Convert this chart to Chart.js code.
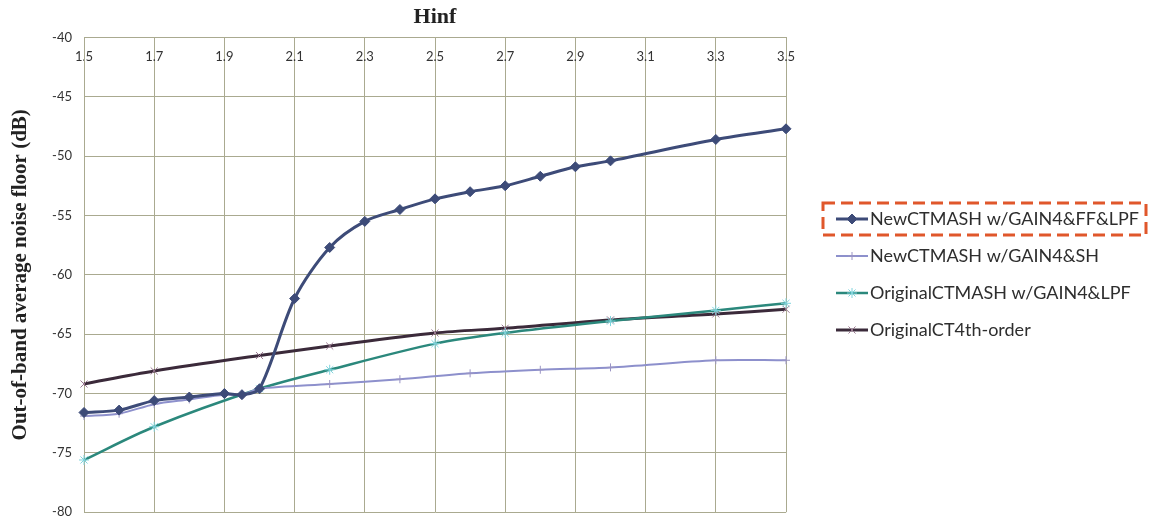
<!DOCTYPE html>
<html>
<head>
<meta charset="utf-8">
<script src="https://cdn.jsdelivr.net/npm/chart.js@4/dist/chart.umd.min.js"></script>
<style>
  html, body { margin: 0; padding: 0; background: #fff; }
  #wrap { width: 1149px; height: 532px; }
</style>
</head>
<body>
<div id="wrap"><canvas id="c" width="1149" height="532"></canvas></div>
<script>
// Out-of-band average noise floor (dB) versus Hinf
const seriesNames = [
  'NewCTMASH w/GAIN4&FF&LPF',
  'NewCTMASH w/GAIN4&SH',
  'OriginalCTMASH w/GAIN4&LPF',
  'OriginalCT4th-order'
];

const xNewFF = [1.5, 1.6, 1.7, 1.8, 1.9, 1.95, 2.0, 2.1, 2.2, 2.3, 2.4, 2.5, 2.6, 2.7, 2.8, 2.9, 3.0, 3.3, 3.5];
const yNewFF = [-71.6, -71.4, -70.6, -70.3, -70.0, -70.1, -69.6, -62.0, -57.7, -55.5, -54.5, -53.6, -53.0, -52.5, -51.7, -50.9, -50.4, -48.6, -47.7];

const xNewSH = [1.5, 1.6, 1.7, 1.8, 1.9, 1.95, 2.0, 2.2, 2.4, 2.6, 2.8, 3.0, 3.3, 3.5];
const yNewSH = [-71.9, -71.7, -70.9, -70.5, -70.1, -70.1, -69.6, -69.2, -68.8, -68.3, -68.0, -67.8, -67.2, -67.2];

const xOrigLPF = [1.5, 1.7, 2.0, 2.2, 2.5, 2.7, 3.0, 3.3, 3.5];
const yOrigLPF = [-75.6, -72.8, -69.6, -68.0, -65.8, -64.9, -63.9, -63.0, -62.4];

const xOrig4th = [1.5, 1.7, 2.0, 2.2, 2.5, 2.7, 3.0, 3.3, 3.5];
const yOrig4th = [-69.2, -68.1, -66.8, -66.0, -64.9, -64.5, -63.8, -63.3, -62.9];

const xMin = 1.5, xMax = 3.5, xStep = 0.2;
const yMin = -80, yMax = -40, yStep = 5;

const toPoints = (xs, ys) => xs.map((x, i) => ({ x: x, y: ys[i] }));

const tickFont = { family: 'Lato, "Open Sans", sans-serif', size: 13 };
const gridColor = '#aaaa90';

// Line-and-marker legend on the right, with a dashed frame round the first entry
const sideLegend = {
  id: 'sideLegend',
  afterDraw(chart) {
    const ctx = chart.ctx;
    const x0 = 836, x1 = 868, tx = 870;
    const rows = [219, 256, 293, 330];
    ctx.save();
    chart.data.datasets.forEach((ds, i) => {
      const y = rows[i];
      ctx.strokeStyle = ds.borderColor;
      ctx.lineWidth = ds.borderWidth;
      ctx.beginPath();
      ctx.moveTo(x0, y);
      ctx.lineTo(x1, y);
      ctx.stroke();
      if (Chart.helpers && Chart.helpers.drawPoint) {
        ctx.fillStyle = ds.pointBackgroundColor;
        ctx.strokeStyle = ds.pointBorderColor;
        ctx.lineWidth = ds.pointBorderWidth;
        Chart.helpers.drawPoint(ctx, {
          pointStyle: ds.pointStyle,
          radius: ds.pointRadius,
          borderWidth: ds.pointBorderWidth,
          rotation: 0
        }, (x0 + x1) / 2, y);
      }
      ctx.fillStyle = '#2e2e2e';
      ctx.font = '18px Lato, "Open Sans", sans-serif';
      ctx.textAlign = 'left';
      ctx.textBaseline = 'middle';
      ctx.fillText(ds.label, tx, y);
    });
    ctx.strokeStyle = '#e0572b';
    ctx.lineWidth = 3;
    ctx.setLineDash([12, 6]);
    ctx.strokeRect(823, 203, 323, 32);
    ctx.restore();
  }
};

new Chart(document.getElementById('c'), {
  type: 'line',
  data: {
    datasets: [
      {
        label: seriesNames[0],
        data: toPoints(xNewFF, yNewFF),
        borderColor: '#3d4b78',
        backgroundColor: '#3d4b78',
        borderWidth: 3,
        pointStyle: 'rectRot',
        pointRadius: 5,
        pointBorderWidth: 1,
        pointBackgroundColor: '#3d4b78',
        pointBorderColor: '#3d4b78'
      },
      {
        label: seriesNames[1],
        data: toPoints(xNewSH, yNewSH),
        borderColor: '#8d90cc',
        backgroundColor: '#8d90cc',
        borderWidth: 2,
        pointStyle: 'cross',
        pointRadius: 4,
        pointBorderWidth: 1,
        pointBackgroundColor: '#8d90cc',
        pointBorderColor: '#9a94c4'
      },
      {
        label: seriesNames[2],
        data: toPoints(xOrigLPF, yOrigLPF),
        borderColor: '#2b887c',
        backgroundColor: '#2b887c',
        borderWidth: 2.5,
        pointStyle: 'star',
        pointRadius: 5,
        pointBorderWidth: 1,
        pointBackgroundColor: '#7ed3dc',
        pointBorderColor: '#7ed3dc'
      },
      {
        label: seriesNames[3],
        data: toPoints(xOrig4th, yOrig4th),
        borderColor: '#3b2a3a',
        backgroundColor: '#3b2a3a',
        borderWidth: 3,
        pointStyle: 'crossRot',
        pointRadius: 5,
        pointBorderWidth: 1,
        pointBackgroundColor: '#9c7a92',
        pointBorderColor: '#9c7a92'
      }
    ]
  },
  options: {
    responsive: false,
    animation: false,
    devicePixelRatio: 1,
    layout: { padding: { left: 0, right: 363, top: 0, bottom: 12 } },
    elements: { line: { tension: 0.3 } },
    datasets: { line: { clip: false } },
    plugins: {
      legend: { display: false },
      tooltip: { enabled: false },
      title: {
        display: true,
        text: 'Hinf',
        fullSize: false,
        color: '#222',
        font: { family: '"Liberation Serif", "DejaVu Serif", serif', size: 22, weight: 'bold' },
        padding: { top: 4, bottom: 7 }
      }
    },
    scales: {
      x: {
        type: 'linear',
        // axis crosses at the top value, labels sit just inside the plot
        position: { y: yMax },
        min: xMin,
        max: xMax,
        ticks: { stepSize: xStep, padding: 12, color: '#333', font: tickFont, maxRotation: 0, autoSkip: false },
        grid: { color: gridColor, lineWidth: 1, drawTicks: false },
        border: { color: gridColor }
      },
      y: {
        type: 'linear',
        position: 'left',
        min: yMin,
        max: yMax,
        ticks: { stepSize: yStep, padding: 12, color: '#333', font: tickFont },
        grid: { color: gridColor, lineWidth: 1, drawTicks: false },
        border: { color: gridColor },
        title: {
          display: true,
          text: 'Out-of-band average noise floor (dB)',
          color: '#222',
          font: { family: '"Liberation Serif", "DejaVu Serif", serif', size: 21, weight: 'bold' },
          padding: { top: 8, bottom: 0 }
        },
        afterFit(scale) { scale.width = 84; }
      }
    }
  },
  plugins: [sideLegend]
});
</script>
</body>
</html>
